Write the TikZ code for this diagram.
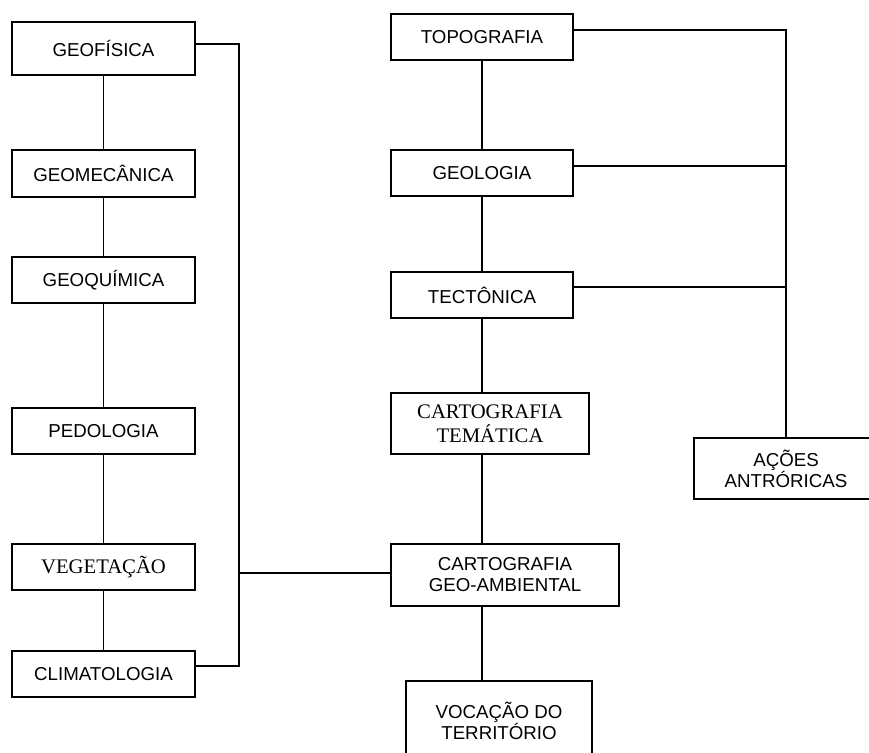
\documentclass[tikz,border=0pt]{standalone}
\usepackage{fontspec}
\setmainfont{Liberation Serif}
\setsansfont{Liberation Sans}
\usetikzlibrary{calc}
\usetikzlibrary{positioning}
\tikzset{
	box/.style={rectangle, draw, line width=1.2pt, align=center, inner sep=0pt, minimum width=183pt, minimum height=46pt, font=\sffamily\fontsize{18.7}{21}\selectfont},
	serifbox/.style={box, font=\rmfamily\fontsize{20.7}{23.7}\selectfont},
	line/.style={draw, line width=1.2pt}
}
\begin{document}
\begin{tikzpicture}[x=1pt, y=-1pt]
\clip (0,0) rectangle (869,752);

\node[box, minimum height=53pt] (geofisica) at (103.5,48.5) {GEOFÍSICA};
\node[box, minimum height=47pt] (geomecanica) at (103.5,173.5) {GEOMECÂNICA};
\node[box] (geoquimica) at (103.5,280) {GEOQUÍMICA};
\node[box] (pedologia) at (103.5,431) {PEDOLOGIA};
\node[serifbox] (vegetacao) at (103.5,567) {VEGETAÇÃO};
\node[box] (climatologia) at (103.5,674) {CLIMATOLOGIA};

\node[box, minimum width=182pt] (topografia) at (482,37) {TOPOGRAFIA};
\node[box, minimum width=182pt] (geologia) at (482,173) {GEOLOGIA};
\node[box, minimum width=182pt] (tectonica) at (482,295) {TECTÔNICA};
\node[serifbox, minimum width=198pt, minimum height=61pt] (tematica) at (490,423.5)
	{CARTOGRAFIA\\TEMÁTICA};
\node[box, minimum width=228pt, minimum height=62pt] (geoambiental) at (505,575)
	{CARTOGRAFIA\\GEO-AMBIENTAL};
\node[box, minimum width=186pt, minimum height=80pt] (vocacao) at (499,721)
	{VOCAÇÃO DO\\TERRITÓRIO};

\node[box, minimum width=184pt, minimum height=61pt] (acoes) at (786,468.5)
	{AÇÕES\\ANTRÓRICAS};

\coordinate (brk) at (239,573);

\draw [line] (geofisica) -- (geomecanica);
\draw [line] (geomecanica) -- (geoquimica);
\draw [line] (geoquimica) -- (pedologia);
\draw [line] (pedologia) -- (vegetacao);
\draw [line] (vegetacao) -- (climatologia);
\draw [line] ([yshift=4.5pt]geofisica.east) -| (brk) |- ([yshift=8pt]climatologia.east);
\draw [line] (brk) -- (brk -| geoambiental.west);

\draw [line] (topografia) -- (geologia);
\draw [line] (geologia) -- (tectonica);
\draw [line] (tectonica.south) -- (tectonica.south |- tematica.north);
\draw [line] (tectonica.south |- tematica.south) -- (tectonica.south |- geoambiental.north);
\draw [line] (tectonica.south |- geoambiental.south) -- (tectonica.south |- vocacao.north);

\draw [line] ([yshift=7pt]topografia.east) -| (acoes.north);
\draw [line] ([yshift=7pt]geologia.east) -- ([yshift=7pt]geologia.east -| acoes.north);
\draw [line] ([yshift=8pt]tectonica.east) -- ([yshift=8pt]tectonica.east -| acoes.north);

\end{tikzpicture}
\end{document}
